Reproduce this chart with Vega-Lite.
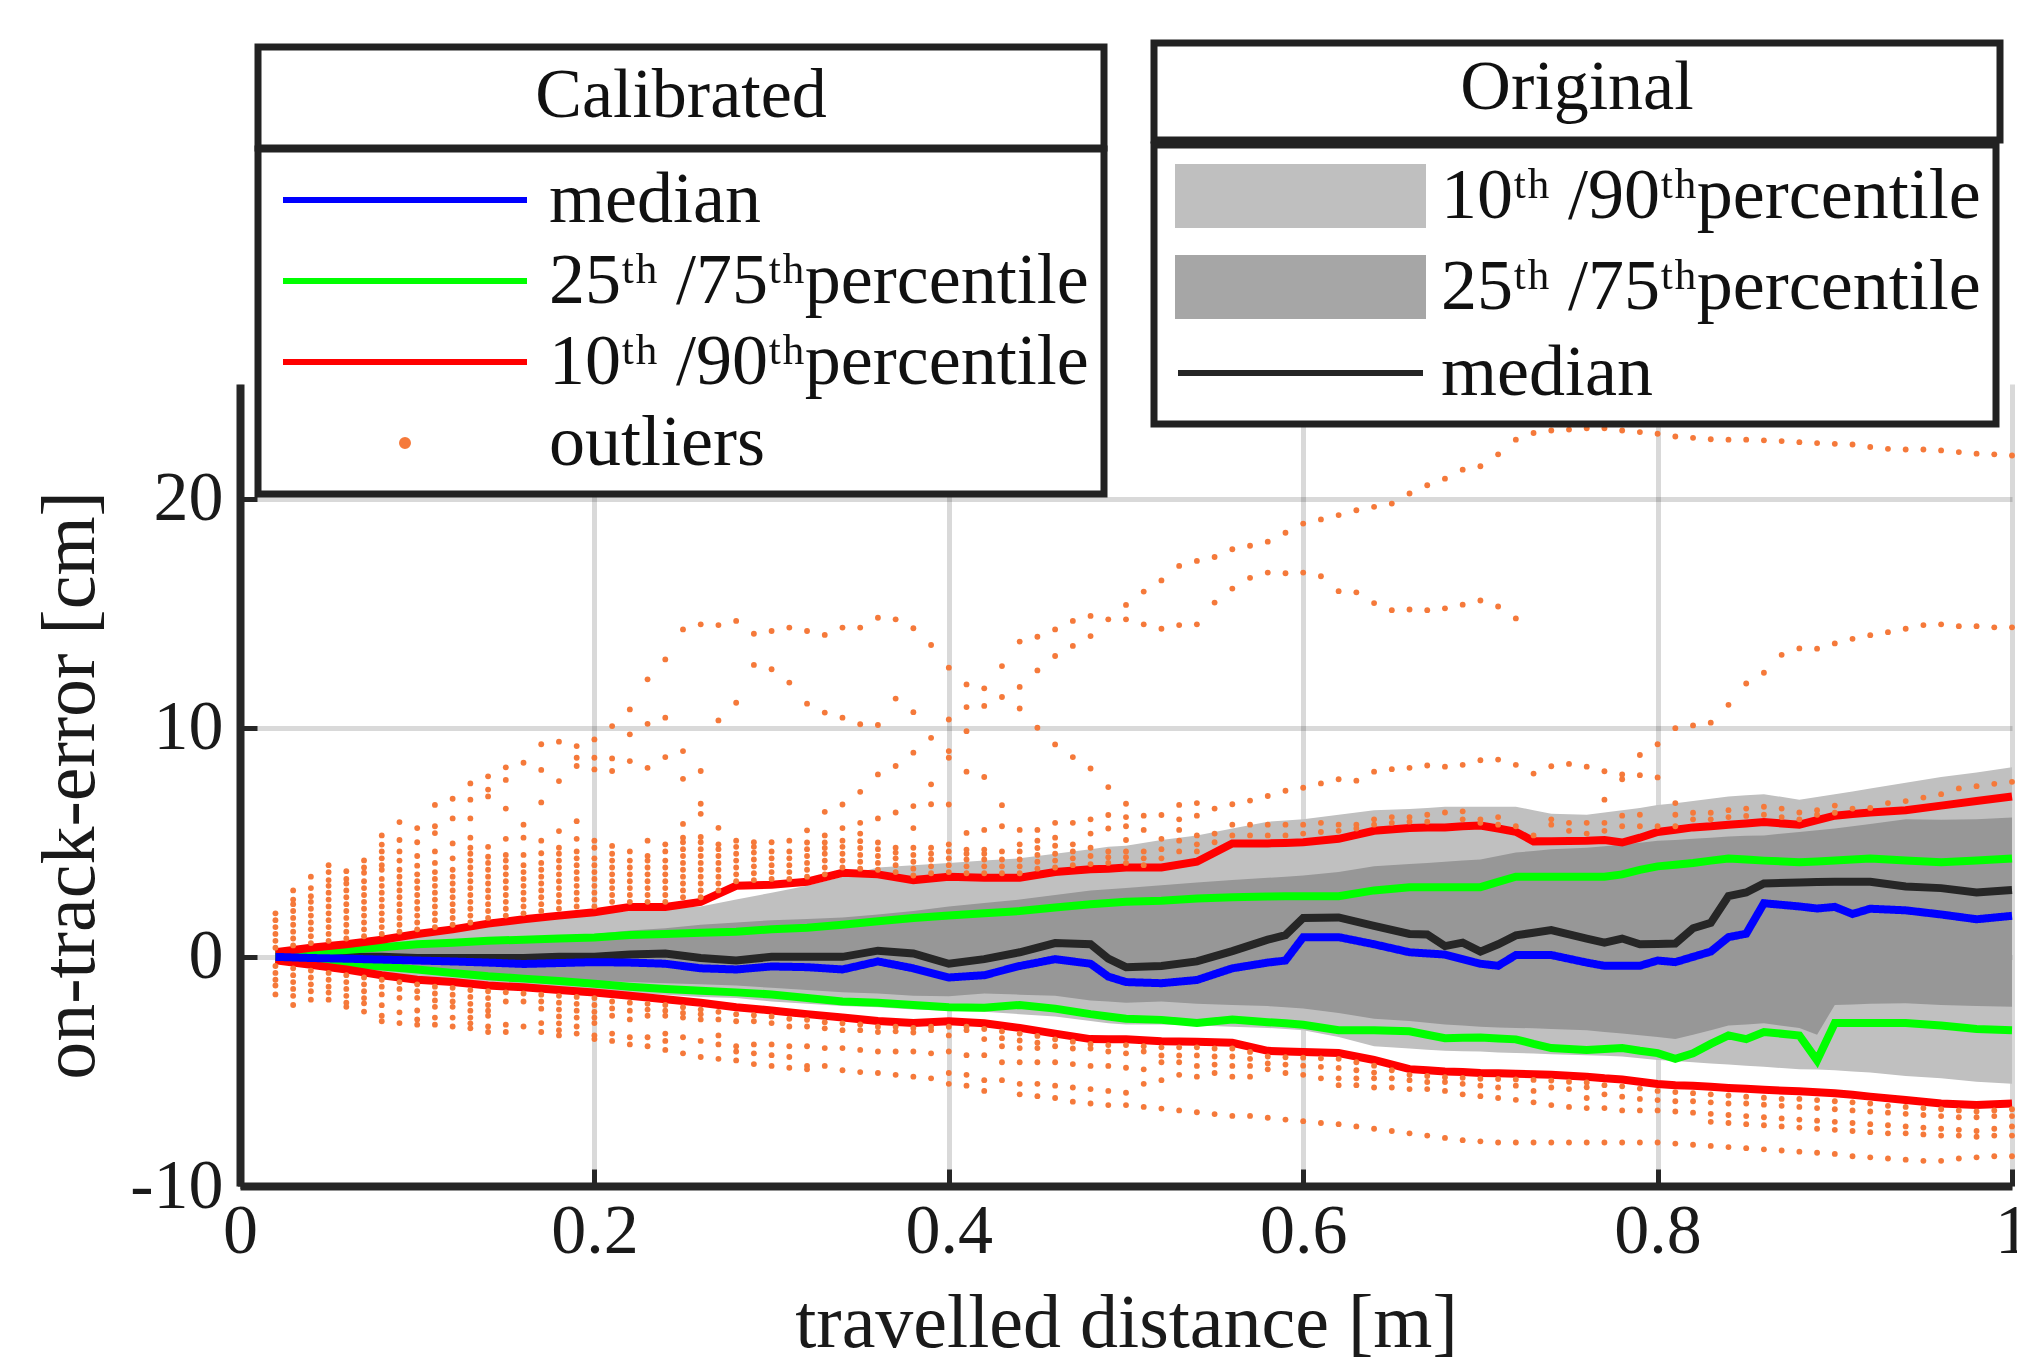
{
"$schema":"https://vega.github.io/schema/vega-lite/v6.json",
"width":1772,"height":802,
"autosize":{"type":"none"},
"padding":{"left":240,"top":384,"right":5,"bottom":171},
"background":"white",
"config":{
 "font":"Liberation Serif",
 "view":{"stroke":null},
 "legend":{"strokeWidth":7},
 "axis":{"domainColor":"#262626","domainWidth":8,"tickColor":"#262626","tickWidth":5,"tickSize":-17,"gridColor":"#000000","gridOpacity":0.15,"gridWidth":5,"labelFont":"Liberation Serif","labelFontSize":70,"labelColor":"#1a1a1a","titleFont":"Liberation Serif","titleFontSize":76,"titleFontWeight":"normal","titleColor":"#1a1a1a","zindex":1,"labelFlush":false,"labelOverlap":false,"labelBound":false}
},
"datasets":{
"main":[
{"x":0.02,"p10":-0.12,"p25":-0.08,"p50":0,"p75":0.08,"p90":0.15,"q10":-0.15,"q25":-0.1,"q50":0,"q75":0.1,"q90":0.2},
{"x":0.04,"p10":-0.3,"p25":-0.2,"p50":0,"p75":0.2,"p90":0.35,"q10":-0.35,"q25":-0.2,"q50":-0.05,"q75":0.2,"q90":0.4},
{"x":0.06,"p10":-0.5,"p25":-0.3,"p50":0,"p75":0.3,"p90":0.5,"q10":-0.55,"q25":-0.3,"q50":-0.08,"q75":0.3,"q90":0.55},
{"x":0.08,"p10":-0.7,"p25":-0.4,"p50":0,"p75":0.4,"p90":0.7,"q10":-0.8,"q25":-0.42,"q50":-0.12,"q75":0.42,"q90":0.75},
{"x":0.10,"p10":-0.9,"p25":-0.5,"p50":-0.05,"p75":0.5,"p90":0.9,"q10":-1.0,"q25":-0.55,"q50":-0.16,"q75":0.55,"q90":1.0},
{"x":0.12,"p10":-1.05,"p25":-0.6,"p50":-0.05,"p75":0.6,"p90":1.1,"q10":-1.1,"q25":-0.7,"q50":-0.2,"q75":0.62,"q90":1.2},
{"x":0.14,"p10":-1.2,"p25":-0.75,"p50":-0.05,"p75":0.7,"p90":1.3,"q10":-1.25,"q25":-0.85,"q50":-0.25,"q75":0.7,"q90":1.45},
{"x":0.16,"p10":-1.3,"p25":-0.85,"p50":-0.05,"p75":0.8,"p90":1.5,"q10":-1.33,"q25":-0.95,"q50":-0.31,"q75":0.75,"q90":1.64},
{"x":0.18,"p10":-1.4,"p25":-0.95,"p50":0,"p75":0.9,"p90":1.7,"q10":-1.45,"q25":-1.05,"q50":-0.27,"q75":0.8,"q90":1.8},
{"x":0.20,"p10":-1.5,"p25":-1.05,"p50":0,"p75":1.0,"p90":1.9,"q10":-1.56,"q25":-1.17,"q50":-0.23,"q75":0.85,"q90":1.95},
{"x":0.22,"p10":-1.6,"p25":-1.1,"p50":0.1,"p75":1.15,"p90":2.0,"q10":-1.7,"q25":-1.3,"q50":-0.25,"q75":0.95,"q90":2.18},
{"x":0.24,"p10":-1.65,"p25":-1.15,"p50":0.15,"p75":1.25,"p90":2.1,"q10":-1.85,"q25":-1.4,"q50":-0.3,"q75":1.0,"q90":2.18},
{"x":0.26,"p10":-1.75,"p25":-1.2,"p50":-0.05,"p75":1.4,"p90":2.2,"q10":-2.0,"q25":-1.48,"q50":-0.5,"q75":1.05,"q90":2.4},
{"x":0.28,"p10":-1.8,"p25":-1.25,"p50":-0.16,"p75":1.5,"p90":2.5,"q10":-2.2,"q25":-1.55,"q50":-0.55,"q75":1.1,"q90":3.1},
{"x":0.30,"p10":-1.95,"p25":-1.35,"p50":0,"p75":1.6,"p90":2.8,"q10":-2.34,"q25":-1.64,"q50":-0.42,"q75":1.2,"q90":3.15},
{"x":0.32,"p10":-2.05,"p25":-1.45,"p50":0,"p75":1.65,"p90":3.1,"q10":-2.5,"q25":-1.8,"q50":-0.45,"q75":1.27,"q90":3.28},
{"x":0.34,"p10":-2.15,"p25":-1.55,"p50":0,"p75":1.72,"p90":3.5,"q10":-2.65,"q25":-1.95,"q50":-0.55,"q75":1.4,"q90":3.67},
{"x":0.36,"p10":-2.2,"p25":-1.6,"p50":0.27,"p75":1.85,"p90":3.9,"q10":-2.8,"q25":-2.0,"q50":-0.2,"q75":1.55,"q90":3.6},
{"x":0.38,"p10":-2.3,"p25":-1.7,"p50":0.15,"p75":2.0,"p90":4.0,"q10":-2.89,"q25":-2.1,"q50":-0.5,"q75":1.7,"q90":3.35},
{"x":0.40,"p10":-2.35,"p25":-1.72,"p50":-0.3,"p75":2.2,"p90":4.1,"q10":-2.81,"q25":-2.2,"q50":-0.9,"q75":1.8,"q90":3.5},
{"x":0.42,"p10":-2.4,"p25":-1.6,"p50":-0.1,"p75":2.35,"p90":4.2,"q10":-2.9,"q25":-2.22,"q50":-0.8,"q75":1.9,"q90":3.45},
{"x":0.44,"p10":-2.5,"p25":-1.65,"p50":0.2,"p75":2.5,"p90":4.3,"q10":-3.1,"q25":-2.1,"q50":-0.4,"q75":2.0,"q90":3.45},
{"x":0.46,"p10":-2.6,"p25":-1.7,"p50":0.6,"p75":2.7,"p90":4.5,"q10":-3.35,"q25":-2.26,"q50":-0.1,"q75":2.15,"q90":3.7},
{"x":0.48,"p10":-2.8,"p25":-1.9,"p50":0.55,"p75":2.9,"p90":4.7,"q10":-3.59,"q25":-2.5,"q50":-0.3,"q75":2.3,"q90":3.82},
{"x":0.49,"p10":-2.9,"p25":-1.95,"p50":-0.08,"p75":2.95,"p90":4.8,"q10":-3.6,"q25":-2.6,"q50":-0.86,"q75":2.35,"q90":3.85},
{"x":0.50,"p10":-2.95,"p25":-2.0,"p50":-0.45,"p75":3.0,"p90":4.85,"q10":-3.6,"q25":-2.7,"q50":-1.1,"q75":2.4,"q90":3.9},
{"x":0.52,"p10":-2.95,"p25":-1.95,"p50":-0.4,"p75":3.12,"p90":5.1,"q10":-3.68,"q25":-2.75,"q50":-1.15,"q75":2.45,"q90":3.9},
{"x":0.54,"p10":-3.0,"p25":-2.05,"p50":-0.2,"p75":3.25,"p90":5.3,"q10":-3.7,"q25":-2.89,"q50":-1.01,"q75":2.55,"q90":4.15},
{"x":0.56,"p10":-3.05,"p25":-2.1,"p50":0.25,"p75":3.35,"p90":5.6,"q10":-3.75,"q25":-2.73,"q50":-0.5,"q75":2.6,"q90":4.95},
{"x":0.58,"p10":-3.1,"p25":-2.15,"p50":0.75,"p75":3.45,"p90":5.9,"q10":-4.1,"q25":-2.85,"q50":-0.25,"q75":2.63,"q90":4.95},
{"x":0.59,"p10":-3.15,"p25":-2.2,"p50":0.95,"p75":3.5,"p90":5.95,"q10":-4.13,"q25":-2.9,"q50":-0.16,"q75":2.64,"q90":4.97},
{"x":0.60,"p10":-3.2,"p25":-2.25,"p50":1.7,"p75":3.55,"p90":6.0,"q10":-4.15,"q25":-2.96,"q50":0.86,"q75":2.65,"q90":5.0},
{"x":0.62,"p10":-3.5,"p25":-2.45,"p50":1.72,"p75":3.7,"p90":6.2,"q10":-4.2,"q25":-3.2,"q50":0.86,"q75":2.65,"q90":5.15},
{"x":0.64,"p10":-3.9,"p25":-2.7,"p50":1.35,"p75":3.95,"p90":6.4,"q10":-4.5,"q25":-3.2,"q50":0.55,"q75":2.9,"q90":5.5},
{"x":0.66,"p10":-4.0,"p25":-2.8,"p50":1.0,"p75":4.05,"p90":6.45,"q10":-4.9,"q25":-3.25,"q50":0.2,"q75":3.04,"q90":5.62},
{"x":0.67,"p10":-4.05,"p25":-2.88,"p50":0.98,"p75":4.1,"p90":6.5,"q10":-4.95,"q25":-3.4,"q50":0.15,"q75":3.04,"q90":5.64},
{"x":0.68,"p10":-4.1,"p25":-2.95,"p50":0.47,"p75":4.15,"p90":6.55,"q10":-5.0,"q25":-3.55,"q50":0.1,"q75":3.04,"q90":5.65},
{"x":0.69,"p10":-4.12,"p25":-3.0,"p50":0.62,"p75":4.2,"p90":6.55,"q10":-5.03,"q25":-3.53,"q50":-0.1,"q75":3.04,"q90":5.7},
{"x":0.70,"p10":-4.13,"p25":-3.05,"p50":0.23,"p75":4.25,"p90":6.55,"q10":-5.07,"q25":-3.52,"q50":-0.3,"q75":3.04,"q90":5.73},
{"x":0.71,"p10":-4.17,"p25":-3.08,"p50":0.55,"p75":4.4,"p90":6.55,"q10":-5.08,"q25":-3.56,"q50":-0.39,"q75":3.27,"q90":5.6},
{"x":0.72,"p10":-4.2,"p25":-3.1,"p50":0.94,"p75":4.55,"p90":6.55,"q10":-5.1,"q25":-3.6,"q50":0.08,"q75":3.5,"q90":5.46},
{"x":0.73,"p10":-4.22,"p25":-3.12,"p50":1.05,"p75":4.62,"p90":6.4,"q10":-5.12,"q25":-3.8,"q50":0.08,"q75":3.5,"q90":5.04},
{"x":0.74,"p10":-4.25,"p25":-3.15,"p50":1.17,"p75":4.7,"p90":6.24,"q10":-5.15,"q25":-3.98,"q50":0.08,"q75":3.5,"q90":5.05},
{"x":0.76,"p10":-4.29,"p25":-3.2,"p50":0.8,"p75":4.76,"p90":6.2,"q10":-5.23,"q25":-4.06,"q50":-0.25,"q75":3.5,"q90":5.07},
{"x":0.77,"p10":-4.32,"p25":-3.28,"p50":0.62,"p75":4.83,"p90":6.3,"q10":-5.3,"q25":-4.02,"q50":-0.39,"q75":3.5,"q90":5.1},
{"x":0.78,"p10":-4.35,"p25":-3.35,"p50":0.8,"p75":4.9,"p90":6.4,"q10":-5.35,"q25":-3.98,"q50":-0.39,"q75":3.6,"q90":4.99},
{"x":0.79,"p10":-4.42,"p25":-3.42,"p50":0.55,"p75":4.98,"p90":6.5,"q10":-5.45,"q25":-4.1,"q50":-0.39,"q75":3.8,"q90":5.2},
{"x":0.80,"p10":-4.5,"p25":-3.5,"p50":0.56,"p75":5.07,"p90":6.63,"q10":-5.55,"q25":-4.2,"q50":-0.16,"q75":3.95,"q90":5.45},
{"x":0.81,"p10":-4.55,"p25":-3.59,"p50":0.58,"p75":5.1,"p90":6.7,"q10":-5.6,"q25":-4.45,"q50":-0.23,"q75":4.02,"q90":5.55},
{"x":0.82,"p10":-4.6,"p25":-3.4,"p50":1.25,"p75":5.15,"p90":6.8,"q10":-5.62,"q25":-4.21,"q50":0,"q75":4.1,"q90":5.65},
{"x":0.83,"p10":-4.65,"p25":-3.2,"p50":1.48,"p75":5.2,"p90":6.9,"q10":-5.67,"q25":-3.8,"q50":0.23,"q75":4.2,"q90":5.7},
{"x":0.84,"p10":-4.7,"p25":-3.0,"p50":2.65,"p75":5.25,"p90":7.0,"q10":-5.72,"q25":-3.43,"q50":0.86,"q75":4.29,"q90":5.77},
{"x":0.85,"p10":-4.75,"p25":-2.95,"p50":2.81,"p75":5.28,"p90":7.05,"q10":-5.76,"q25":-3.59,"q50":1.01,"q75":4.25,"q90":5.82},
{"x":0.86,"p10":-4.8,"p25":-2.9,"p50":3.2,"p75":5.3,"p90":7.1,"q10":-5.8,"q25":-3.28,"q50":2.34,"q75":4.2,"q90":5.88},
{"x":0.88,"p10":-4.9,"p25":-3.1,"p50":3.25,"p75":5.45,"p90":6.86,"q10":-5.87,"q25":-3.43,"q50":2.2,"q75":4.13,"q90":5.77},
{"x":0.89,"p10":-4.92,"p25":-3.4,"p50":3.27,"p75":5.52,"p90":6.98,"q10":-5.91,"q25":-4.52,"q50":2.11,"q75":4.16,"q90":5.97},
{"x":0.90,"p10":-4.95,"p25":-2.1,"p50":3.28,"p75":5.6,"p90":7.1,"q10":-5.95,"q25":-2.89,"q50":2.18,"q75":4.2,"q90":6.16},
{"x":0.91,"p10":-5.0,"p25":-2.08,"p50":3.28,"p75":5.7,"p90":7.22,"q10":-6.02,"q25":-2.89,"q50":1.87,"q75":4.25,"q90":6.23},
{"x":0.92,"p10":-5.05,"p25":-2.05,"p50":3.28,"p75":5.8,"p90":7.35,"q10":-6.1,"q25":-2.89,"q50":2.1,"q75":4.29,"q90":6.3},
{"x":0.94,"p10":-5.2,"p25":-2.03,"p50":3.07,"p75":6.0,"p90":7.6,"q10":-6.25,"q25":-2.89,"q50":2.03,"q75":4.2,"q90":6.4},
{"x":0.96,"p10":-5.3,"p25":-2.1,"p50":3.0,"p75":5.98,"p90":7.85,"q10":-6.4,"q25":-3.0,"q50":1.85,"q75":4.13,"q90":6.6},
{"x":0.98,"p10":-5.45,"p25":-2.15,"p50":2.81,"p75":6.0,"p90":8.05,"q10":-6.47,"q25":-3.15,"q50":1.64,"q75":4.2,"q90":6.8},
{"x":1.00,"p10":-5.54,"p25":-2.18,"p50":2.92,"p75":6.08,"p90":8.27,"q10":-6.4,"q25":-3.2,"q50":1.79,"q75":4.29,"q90":7.0}
],
"out":[
{"x":0.02,"y":0.4},{"x":0.02,"y":0.7},{"x":0.02,"y":1.0},{"x":0.02,"y":1.3},{"x":0.02,"y":1.6},{"x":0.02,"y":1.9},
{"x":0.03,"y":0.5},{"x":0.03,"y":0.8},{"x":0.03,"y":1.1},{"x":0.03,"y":1.4},{"x":0.03,"y":1.7},{"x":0.03,"y":2.0},{"x":0.03,"y":2.3},{"x":0.03,"y":2.5},{"x":0.03,"y":2.9},
{"x":0.04,"y":0.6},{"x":0.04,"y":0.9},{"x":0.04,"y":1.2},{"x":0.04,"y":1.5},{"x":0.04,"y":1.8},{"x":0.04,"y":2.1},{"x":0.04,"y":2.4},{"x":0.04,"y":2.65},{"x":0.04,"y":3.0},{"x":0.04,"y":3.5},
{"x":0.05,"y":0.7},{"x":0.05,"y":1.0},{"x":0.05,"y":1.3},{"x":0.05,"y":1.6},{"x":0.05,"y":1.9},{"x":0.05,"y":2.2},{"x":0.05,"y":2.5},{"x":0.05,"y":2.8},{"x":0.05,"y":3.1},{"x":0.05,"y":3.35},{"x":0.05,"y":3.7},{"x":0.05,"y":4.0},
{"x":0.06,"y":0.8},{"x":0.06,"y":1.1},{"x":0.06,"y":1.4},{"x":0.06,"y":1.7},{"x":0.06,"y":2.0},{"x":0.06,"y":2.3},{"x":0.06,"y":2.6},{"x":0.06,"y":2.9},{"x":0.06,"y":3.2},{"x":0.06,"y":3.4},{"x":0.06,"y":3.74},
{"x":0.07,"y":0.9},{"x":0.07,"y":1.2},{"x":0.07,"y":1.5},{"x":0.07,"y":1.8},{"x":0.07,"y":2.1},{"x":0.07,"y":2.4},{"x":0.07,"y":2.7},{"x":0.07,"y":3.0},{"x":0.07,"y":3.3},{"x":0.07,"y":3.67},{"x":0.07,"y":3.9},{"x":0.07,"y":4.21},
{"x":0.08,"y":1.0},{"x":0.08,"y":1.3},{"x":0.08,"y":1.6},{"x":0.08,"y":1.9},{"x":0.08,"y":2.2},{"x":0.08,"y":2.5},{"x":0.08,"y":2.8},{"x":0.08,"y":3.1},{"x":0.08,"y":3.4},{"x":0.08,"y":3.8},{"x":0.08,"y":4.0},{"x":0.08,"y":4.3},{"x":0.08,"y":4.6},{"x":0.08,"y":4.9},{"x":0.08,"y":5.3},
{"x":0.09,"y":1.1},{"x":0.09,"y":1.4},{"x":0.09,"y":1.7},{"x":0.09,"y":2.0},{"x":0.09,"y":2.3},{"x":0.09,"y":2.6},{"x":0.09,"y":2.9},{"x":0.09,"y":3.2},{"x":0.09,"y":3.5},{"x":0.09,"y":3.8},{"x":0.09,"y":4.2},{"x":0.09,"y":4.6},{"x":0.09,"y":5.1},{"x":0.09,"y":5.88},
{"x":0.1,"y":1.2},{"x":0.1,"y":1.5},{"x":0.1,"y":1.8},{"x":0.1,"y":2.1},{"x":0.1,"y":2.4},{"x":0.1,"y":2.7},{"x":0.1,"y":3.0},{"x":0.1,"y":3.3},{"x":0.1,"y":3.6},{"x":0.1,"y":3.98},{"x":0.1,"y":4.4},{"x":0.1,"y":5.0},{"x":0.1,"y":5.62},
{"x":0.11,"y":1.3},{"x":0.11,"y":1.6},{"x":0.11,"y":1.9},{"x":0.11,"y":2.2},{"x":0.11,"y":2.5},{"x":0.11,"y":2.8},{"x":0.11,"y":3.1},{"x":0.11,"y":3.4},{"x":0.11,"y":3.7},{"x":0.11,"y":4.1},{"x":0.11,"y":4.6},{"x":0.11,"y":5.4},{"x":0.11,"y":5.7},{"x":0.11,"y":6.63},
{"x":0.12,"y":1.4},{"x":0.12,"y":1.7},{"x":0.12,"y":2.0},{"x":0.12,"y":2.3},{"x":0.12,"y":2.6},{"x":0.12,"y":2.9},{"x":0.12,"y":3.2},{"x":0.12,"y":3.5},{"x":0.12,"y":3.8},{"x":0.12,"y":4.3},{"x":0.12,"y":4.95},{"x":0.12,"y":6.04},{"x":0.12,"y":6.9},
{"x":0.13,"y":1.5},{"x":0.13,"y":1.8},{"x":0.13,"y":2.1},{"x":0.13,"y":2.4},{"x":0.13,"y":2.7},{"x":0.13,"y":3.0},{"x":0.13,"y":3.3},{"x":0.13,"y":3.6},{"x":0.13,"y":3.9},{"x":0.13,"y":4.2},{"x":0.13,"y":4.5},{"x":0.13,"y":4.76},{"x":0.13,"y":5.2},{"x":0.13,"y":6.04},{"x":0.13,"y":6.86},{"x":0.13,"y":7.57},
{"x":0.14,"y":1.7},{"x":0.14,"y":2.0},{"x":0.14,"y":2.3},{"x":0.14,"y":2.6},{"x":0.14,"y":2.9},{"x":0.14,"y":3.2},{"x":0.14,"y":3.5},{"x":0.14,"y":3.8},{"x":0.14,"y":4.1},{"x":0.14,"y":4.37},{"x":0.14,"y":4.8},{"x":0.14,"y":7.0},{"x":0.14,"y":7.3},{"x":0.14,"y":7.88},
{"x":0.15,"y":1.8},{"x":0.15,"y":2.1},{"x":0.15,"y":2.4},{"x":0.15,"y":2.7},{"x":0.15,"y":3.0},{"x":0.15,"y":3.3},{"x":0.15,"y":3.6},{"x":0.15,"y":3.9},{"x":0.15,"y":4.2},{"x":0.15,"y":4.45},{"x":0.15,"y":5.15},{"x":0.15,"y":6.47},{"x":0.15,"y":7.72},{"x":0.15,"y":8.27},
{"x":0.16,"y":1.9},{"x":0.16,"y":2.2},{"x":0.16,"y":2.5},{"x":0.16,"y":2.8},{"x":0.16,"y":3.1},{"x":0.16,"y":3.4},{"x":0.16,"y":3.7},{"x":0.16,"y":4.0},{"x":0.16,"y":4.45},{"x":0.16,"y":5.2},{"x":0.16,"y":5.77},{"x":0.16,"y":8.47},
{"x":0.17,"y":2.0},{"x":0.17,"y":2.3},{"x":0.17,"y":2.6},{"x":0.17,"y":2.9},{"x":0.17,"y":3.2},{"x":0.17,"y":3.5},{"x":0.17,"y":3.8},{"x":0.17,"y":4.1},{"x":0.17,"y":4.52},{"x":0.17,"y":5.07},{"x":0.17,"y":6.74},{"x":0.17,"y":8.16},{"x":0.17,"y":9.28},
{"x":0.18,"y":2.1},{"x":0.18,"y":2.4},{"x":0.18,"y":2.7},{"x":0.18,"y":3.0},{"x":0.18,"y":3.3},{"x":0.18,"y":3.6},{"x":0.18,"y":3.9},{"x":0.18,"y":4.2},{"x":0.18,"y":4.5},{"x":0.18,"y":4.76},{"x":0.18,"y":5.49},{"x":0.18,"y":7.67},{"x":0.18,"y":9.39},
{"x":0.19,"y":2.2},{"x":0.19,"y":2.5},{"x":0.19,"y":2.8},{"x":0.19,"y":3.1},{"x":0.19,"y":3.4},{"x":0.19,"y":3.7},{"x":0.19,"y":4.0},{"x":0.19,"y":4.3},{"x":0.19,"y":4.6},{"x":0.19,"y":5.15},{"x":0.19,"y":5.92},{"x":0.19,"y":8.33},{"x":0.19,"y":8.69},{"x":0.19,"y":9.2},
{"x":0.2,"y":2.2},{"x":0.2,"y":2.5},{"x":0.2,"y":2.8},{"x":0.2,"y":3.1},{"x":0.2,"y":3.4},{"x":0.2,"y":3.7},{"x":0.2,"y":4.0},{"x":0.2,"y":4.3},{"x":0.2,"y":4.76},{"x":0.2,"y":5.07},{"x":0.2,"y":8.18},{"x":0.2,"y":8.69},{"x":0.2,"y":9.49},
{"x":0.21,"y":2.4},{"x":0.21,"y":2.7},{"x":0.21,"y":3.0},{"x":0.21,"y":3.3},{"x":0.21,"y":3.6},{"x":0.21,"y":3.9},{"x":0.21,"y":4.2},{"x":0.21,"y":4.5},{"x":0.21,"y":4.84},{"x":0.21,"y":8.11},{"x":0.21,"y":8.66},{"x":0.21,"y":10.07},
{"x":0.22,"y":2.4},{"x":0.22,"y":2.7},{"x":0.22,"y":3.0},{"x":0.22,"y":3.3},{"x":0.22,"y":3.6},{"x":0.22,"y":3.9},{"x":0.22,"y":4.2},{"x":0.22,"y":4.6},{"x":0.22,"y":8.54},{"x":0.22,"y":9.71},{"x":0.22,"y":10.8},
{"x":0.23,"y":2.4},{"x":0.23,"y":2.7},{"x":0.23,"y":3.0},{"x":0.23,"y":3.3},{"x":0.23,"y":3.6},{"x":0.23,"y":3.9},{"x":0.23,"y":4.2},{"x":0.23,"y":4.4},{"x":0.23,"y":5.07},{"x":0.23,"y":8.25},{"x":0.23,"y":10.17},{"x":0.23,"y":12.11},
{"x":0.24,"y":2.4},{"x":0.24,"y":2.7},{"x":0.24,"y":3.0},{"x":0.24,"y":3.3},{"x":0.24,"y":3.6},{"x":0.24,"y":3.9},{"x":0.24,"y":4.2},{"x":0.24,"y":4.6},{"x":0.24,"y":4.91},{"x":0.24,"y":8.72},{"x":0.24,"y":10.44},{"x":0.24,"y":12.98},
{"x":0.25,"y":2.6},{"x":0.25,"y":2.9},{"x":0.25,"y":3.2},{"x":0.25,"y":3.5},{"x":0.25,"y":3.8},{"x":0.25,"y":4.1},{"x":0.25,"y":4.4},{"x":0.25,"y":4.7},{"x":0.25,"y":5.0},{"x":0.25,"y":5.2},{"x":0.25,"y":5.8},{"x":0.25,"y":7.77},{"x":0.25,"y":8.98},{"x":0.25,"y":14.29},
{"x":0.26,"y":2.6},{"x":0.26,"y":2.9},{"x":0.26,"y":3.2},{"x":0.26,"y":3.5},{"x":0.26,"y":3.8},{"x":0.26,"y":4.1},{"x":0.26,"y":4.4},{"x":0.26,"y":4.7},{"x":0.26,"y":5.0},{"x":0.26,"y":5.23},{"x":0.26,"y":6.24},{"x":0.26,"y":6.68},{"x":0.26,"y":8.11},{"x":0.26,"y":14.51},
{"x":0.27,"y":2.9},{"x":0.27,"y":3.2},{"x":0.27,"y":3.5},{"x":0.27,"y":3.8},{"x":0.27,"y":4.1},{"x":0.27,"y":4.4},{"x":0.27,"y":4.7},{"x":0.27,"y":4.91},{"x":0.27,"y":5.63},{"x":0.27,"y":10.32},{"x":0.27,"y":14.48},
{"x":0.28,"y":3.3},{"x":0.28,"y":3.6},{"x":0.28,"y":3.9},{"x":0.28,"y":4.2},{"x":0.28,"y":4.5},{"x":0.28,"y":4.8},{"x":0.28,"y":5.07},{"x":0.28,"y":11.09},{"x":0.28,"y":14.66},
{"x":0.29,"y":3.35},{"x":0.29,"y":3.65},{"x":0.29,"y":3.95},{"x":0.29,"y":4.25},{"x":0.29,"y":4.55},{"x":0.29,"y":4.8},{"x":0.29,"y":5.0},{"x":0.29,"y":12.74},{"x":0.29,"y":14.1},
{"x":0.3,"y":3.4},{"x":0.3,"y":3.7},{"x":0.3,"y":4.0},{"x":0.3,"y":4.3},{"x":0.3,"y":4.6},{"x":0.3,"y":5.0},{"x":0.3,"y":12.55},{"x":0.3,"y":14.22},
{"x":0.31,"y":3.4},{"x":0.31,"y":3.7},{"x":0.31,"y":4.0},{"x":0.31,"y":4.3},{"x":0.31,"y":4.6},{"x":0.31,"y":5.07},{"x":0.31,"y":11.97},{"x":0.31,"y":14.37},
{"x":0.32,"y":3.5},{"x":0.32,"y":3.8},{"x":0.32,"y":4.1},{"x":0.32,"y":4.4},{"x":0.32,"y":4.7},{"x":0.32,"y":4.99},{"x":0.32,"y":5.52},{"x":0.32,"y":11.05},{"x":0.32,"y":14.22},
{"x":0.33,"y":3.6},{"x":0.33,"y":3.9},{"x":0.33,"y":4.2},{"x":0.33,"y":4.5},{"x":0.33,"y":4.75},{"x":0.33,"y":4.99},{"x":0.33,"y":5.3},{"x":0.33,"y":6.33},{"x":0.33,"y":10.66},{"x":0.33,"y":14.05},
{"x":0.34,"y":3.9},{"x":0.34,"y":4.2},{"x":0.34,"y":4.5},{"x":0.34,"y":4.8},{"x":0.34,"y":5.07},{"x":0.34,"y":5.62},{"x":0.34,"y":6.65},{"x":0.34,"y":10.44},{"x":0.34,"y":14.37},
{"x":0.35,"y":3.85},{"x":0.35,"y":4.15},{"x":0.35,"y":4.45},{"x":0.35,"y":4.75},{"x":0.35,"y":5.05},{"x":0.35,"y":5.38},{"x":0.35,"y":5.85},{"x":0.35,"y":7.2},{"x":0.35,"y":10.15},{"x":0.35,"y":14.37},
{"x":0.36,"y":3.8},{"x":0.36,"y":4.1},{"x":0.36,"y":4.4},{"x":0.36,"y":4.7},{"x":0.36,"y":4.99},{"x":0.36,"y":6.04},{"x":0.36,"y":7.96},{"x":0.36,"y":10.12},{"x":0.36,"y":14.8},
{"x":0.37,"y":3.7},{"x":0.37,"y":4.0},{"x":0.37,"y":4.3},{"x":0.37,"y":4.55},{"x":0.37,"y":4.76},{"x":0.37,"y":6.3},{"x":0.37,"y":8.33},{"x":0.37,"y":11.27},{"x":0.37,"y":14.73},
{"x":0.38,"y":3.55},{"x":0.38,"y":3.85},{"x":0.38,"y":4.15},{"x":0.38,"y":4.45},{"x":0.38,"y":4.76},{"x":0.38,"y":5.62},{"x":0.38,"y":6.58},{"x":0.38,"y":8.91},{"x":0.38,"y":10.68},{"x":0.38,"y":14.34},
{"x":0.39,"y":3.65},{"x":0.39,"y":3.95},{"x":0.39,"y":4.25},{"x":0.39,"y":4.5},{"x":0.39,"y":4.76},{"x":0.39,"y":6.66},{"x":0.39,"y":7.53},{"x":0.39,"y":9.56},{"x":0.39,"y":13.61},
{"x":0.4,"y":3.7},{"x":0.4,"y":4.0},{"x":0.4,"y":4.3},{"x":0.4,"y":4.6},{"x":0.4,"y":4.91},{"x":0.4,"y":6.65},{"x":0.4,"y":8.69},{"x":0.4,"y":8.98},{"x":0.4,"y":10.36},{"x":0.4,"y":12.62},
{"x":0.41,"y":3.65},{"x":0.41,"y":3.95},{"x":0.41,"y":4.25},{"x":0.41,"y":4.5},{"x":0.41,"y":4.68},{"x":0.41,"y":5.41},{"x":0.41,"y":8.08},{"x":0.41,"y":9.85},{"x":0.41,"y":10.9},{"x":0.41,"y":11.89},
{"x":0.42,"y":3.65},{"x":0.42,"y":3.95},{"x":0.42,"y":4.25},{"x":0.42,"y":4.5},{"x":0.42,"y":4.68},{"x":0.42,"y":5.54},{"x":0.42,"y":7.85},{"x":0.42,"y":10.95},{"x":0.42,"y":11.72},
{"x":0.43,"y":3.65},{"x":0.43,"y":3.95},{"x":0.43,"y":4.25},{"x":0.43,"y":4.6},{"x":0.43,"y":5.7},{"x":0.43,"y":6.62},{"x":0.43,"y":11.34},{"x":0.43,"y":12.69},
{"x":0.44,"y":3.65},{"x":0.44,"y":3.95},{"x":0.44,"y":4.25},{"x":0.44,"y":4.6},{"x":0.44,"y":4.91},{"x":0.44,"y":5.54},{"x":0.44,"y":10.84},{"x":0.44,"y":11.78},{"x":0.44,"y":13.76},
{"x":0.45,"y":3.85},{"x":0.45,"y":4.15},{"x":0.45,"y":4.45},{"x":0.45,"y":4.75},{"x":0.45,"y":5.07},{"x":0.45,"y":5.54},{"x":0.45,"y":10.0},{"x":0.45,"y":12.5},{"x":0.45,"y":13.97},
{"x":0.46,"y":3.9},{"x":0.46,"y":4.2},{"x":0.46,"y":4.5},{"x":0.46,"y":4.85},{"x":0.46,"y":5.2},{"x":0.46,"y":5.85},{"x":0.46,"y":9.27},{"x":0.46,"y":13.13},{"x":0.46,"y":14.29},
{"x":0.47,"y":4.0},{"x":0.47,"y":4.3},{"x":0.47,"y":4.6},{"x":0.47,"y":4.91},{"x":0.47,"y":5.85},{"x":0.47,"y":8.72},{"x":0.47,"y":13.57},{"x":0.47,"y":14.66},
{"x":0.48,"y":4.05},{"x":0.48,"y":4.4},{"x":0.48,"y":4.76},{"x":0.48,"y":5.38},{"x":0.48,"y":6.0},{"x":0.48,"y":8.22},{"x":0.48,"y":14.0},{"x":0.48,"y":14.88},
{"x":0.49,"y":4.1},{"x":0.49,"y":4.35},{"x":0.49,"y":4.6},{"x":0.49,"y":5.6},{"x":0.49,"y":6.19},{"x":0.49,"y":7.41},{"x":0.49,"y":14.73},
{"x":0.5,"y":4.1},{"x":0.5,"y":4.35},{"x":0.5,"y":4.6},{"x":0.5,"y":5.1},{"x":0.5,"y":5.7},{"x":0.5,"y":6.1},{"x":0.5,"y":6.68},{"x":0.5,"y":14.73},{"x":0.5,"y":15.36},
{"x":0.51,"y":4.0},{"x":0.51,"y":4.3},{"x":0.51,"y":4.6},{"x":0.51,"y":5.54},{"x":0.51,"y":6.16},{"x":0.51,"y":14.51},{"x":0.51,"y":15.94},
{"x":0.52,"y":4.3},{"x":0.52,"y":4.7},{"x":0.52,"y":5.15},{"x":0.52,"y":6.19},{"x":0.52,"y":14.32},{"x":0.52,"y":16.43},
{"x":0.53,"y":4.6},{"x":0.53,"y":5.07},{"x":0.53,"y":5.54},{"x":0.53,"y":6.0},{"x":0.53,"y":6.63},{"x":0.53,"y":14.48},{"x":0.53,"y":17.06},
{"x":0.54,"y":4.6},{"x":0.54,"y":4.91},{"x":0.54,"y":5.3},{"x":0.54,"y":6.16},{"x":0.54,"y":6.71},{"x":0.54,"y":14.51},{"x":0.54,"y":17.28},
{"x":0.55,"y":5.0},{"x":0.55,"y":5.38},{"x":0.55,"y":6.47},{"x":0.55,"y":15.46},{"x":0.55,"y":17.45},
{"x":0.56,"y":5.3},{"x":0.56,"y":5.77},{"x":0.56,"y":6.66},{"x":0.56,"y":16.07},{"x":0.56,"y":17.79},
{"x":0.57,"y":5.3},{"x":0.57,"y":5.77},{"x":0.57,"y":6.82},{"x":0.57,"y":16.54},{"x":0.57,"y":17.94},
{"x":0.58,"y":5.3},{"x":0.58,"y":5.77},{"x":0.58,"y":7.02},{"x":0.58,"y":16.77},{"x":0.58,"y":18.12},
{"x":0.59,"y":5.3},{"x":0.59,"y":5.77},{"x":0.59,"y":7.25},{"x":0.59,"y":16.74},{"x":0.59,"y":18.51},
{"x":0.6,"y":5.38},{"x":0.6,"y":5.77},{"x":0.6,"y":7.38},{"x":0.6,"y":16.77},{"x":0.6,"y":18.91},
{"x":0.61,"y":5.45},{"x":0.61,"y":5.85},{"x":0.61,"y":7.57},{"x":0.61,"y":16.61},{"x":0.61,"y":19.09},
{"x":0.62,"y":5.5},{"x":0.62,"y":5.77},{"x":0.62,"y":7.75},{"x":0.62,"y":15.96},{"x":0.62,"y":19.28},
{"x":0.63,"y":5.6},{"x":0.63,"y":5.77},{"x":0.63,"y":7.69},{"x":0.63,"y":15.91},{"x":0.63,"y":19.49},
{"x":0.64,"y":5.77},{"x":0.64,"y":6.0},{"x":0.64,"y":8.08},{"x":0.64,"y":15.44},{"x":0.64,"y":19.64},
{"x":0.65,"y":5.85},{"x":0.65,"y":6.1},{"x":0.65,"y":8.19},{"x":0.65,"y":15.13},{"x":0.65,"y":19.78},
{"x":0.66,"y":5.9},{"x":0.66,"y":6.1},{"x":0.66,"y":8.25},{"x":0.66,"y":15.16},{"x":0.66,"y":20.22},
{"x":0.67,"y":5.9},{"x":0.67,"y":6.2},{"x":0.67,"y":8.35},{"x":0.67,"y":15.13},{"x":0.67,"y":20.58},
{"x":0.68,"y":6.3},{"x":0.68,"y":8.3},{"x":0.68,"y":15.21},{"x":0.68,"y":20.87},
{"x":0.69,"y":6.0},{"x":0.69,"y":6.35},{"x":0.69,"y":8.38},{"x":0.69,"y":15.37},{"x":0.69,"y":21.26},
{"x":0.7,"y":5.85},{"x":0.7,"y":6.0},{"x":0.7,"y":8.58},{"x":0.7,"y":15.55},{"x":0.7,"y":21.41},
{"x":0.71,"y":5.77},{"x":0.71,"y":6.1},{"x":0.71,"y":8.61},{"x":0.71,"y":15.29},{"x":0.71,"y":21.93},
{"x":0.72,"y":5.7},{"x":0.72,"y":8.38},{"x":0.72,"y":14.77},{"x":0.72,"y":22.57},
{"x":0.73,"y":5.3},{"x":0.73,"y":8.0},{"x":0.73,"y":22.86},
{"x":0.74,"y":5.77},{"x":0.74,"y":6.0},{"x":0.74,"y":8.32},{"x":0.74,"y":22.97},
{"x":0.75,"y":5.5},{"x":0.75,"y":5.85},{"x":0.75,"y":8.42},{"x":0.75,"y":23.01},
{"x":0.76,"y":5.38},{"x":0.76,"y":5.85},{"x":0.76,"y":8.3},{"x":0.76,"y":23.07},
{"x":0.77,"y":5.5},{"x":0.77,"y":5.85},{"x":0.77,"y":6.86},{"x":0.77,"y":8.1},{"x":0.77,"y":23.07},
{"x":0.78,"y":5.7},{"x":0.78,"y":6.16},{"x":0.78,"y":7.75},{"x":0.78,"y":7.96},{"x":0.78,"y":22.97},
{"x":0.79,"y":5.7},{"x":0.79,"y":6.2},{"x":0.79,"y":7.93},{"x":0.79,"y":8.81},{"x":0.79,"y":22.9},
{"x":0.8,"y":5.7},{"x":0.8,"y":7.83},{"x":0.8,"y":9.28},{"x":0.8,"y":22.83},
{"x":0.81,"y":5.7},{"x":0.81,"y":6.2},{"x":0.81,"y":6.71},{"x":0.81,"y":9.98},{"x":0.81,"y":22.71},
{"x":0.82,"y":6.0},{"x":0.82,"y":6.29},{"x":0.82,"y":10.1},{"x":0.82,"y":22.65},
{"x":0.83,"y":6.0},{"x":0.83,"y":6.29},{"x":0.83,"y":10.22},{"x":0.83,"y":22.59},
{"x":0.84,"y":6.1},{"x":0.84,"y":6.4},{"x":0.84,"y":11.0},{"x":0.84,"y":22.57},
{"x":0.85,"y":6.15},{"x":0.85,"y":6.47},{"x":0.85,"y":11.93},{"x":0.85,"y":22.57},
{"x":0.86,"y":6.2},{"x":0.86,"y":6.55},{"x":0.86,"y":12.4},{"x":0.86,"y":22.54},
{"x":0.87,"y":6.1},{"x":0.87,"y":6.47},{"x":0.87,"y":13.18},{"x":0.87,"y":22.51},
{"x":0.88,"y":6.0},{"x":0.88,"y":6.3},{"x":0.88,"y":13.46},{"x":0.88,"y":22.46},
{"x":0.89,"y":6.2},{"x":0.89,"y":6.4},{"x":0.89,"y":13.45},{"x":0.89,"y":22.42},
{"x":0.9,"y":6.29},{"x":0.9,"y":6.6},{"x":0.9,"y":13.68},{"x":0.9,"y":22.39},
{"x":0.91,"y":6.47},{"x":0.91,"y":13.88},{"x":0.91,"y":22.36},
{"x":0.92,"y":6.5},{"x":0.92,"y":14.04},{"x":0.92,"y":22.25},
{"x":0.93,"y":6.71},{"x":0.93,"y":14.17},{"x":0.93,"y":22.17},
{"x":0.94,"y":6.8},{"x":0.94,"y":14.32},{"x":0.94,"y":22.14},
{"x":0.95,"y":6.95},{"x":0.95,"y":14.48},{"x":0.95,"y":22.14},
{"x":0.96,"y":7.1},{"x":0.96,"y":14.51},{"x":0.96,"y":22.1},
{"x":0.97,"y":7.35},{"x":0.97,"y":14.43},{"x":0.97,"y":22.03},
{"x":0.98,"y":7.45},{"x":0.98,"y":14.43},{"x":0.98,"y":21.96},
{"x":0.99,"y":7.55},{"x":0.99,"y":14.38},{"x":0.99,"y":21.93},
{"x":1.0,"y":7.64},{"x":1.0,"y":14.38},{"x":1.0,"y":21.88},
{"x":0.02,"y":-0.4},{"x":0.02,"y":-0.7},{"x":0.02,"y":-1.0},{"x":0.02,"y":-1.25},{"x":0.02,"y":-1.64},
{"x":0.03,"y":-0.5},{"x":0.03,"y":-0.8},{"x":0.03,"y":-1.1},{"x":0.03,"y":-1.4},{"x":0.03,"y":-1.7},{"x":0.03,"y":-2.1},
{"x":0.04,"y":-0.6},{"x":0.04,"y":-0.9},{"x":0.04,"y":-1.2},{"x":0.04,"y":-1.5},{"x":0.04,"y":-1.87},
{"x":0.05,"y":-0.7},{"x":0.05,"y":-1.0},{"x":0.05,"y":-1.3},{"x":0.05,"y":-1.56},{"x":0.05,"y":-1.87},
{"x":0.06,"y":-0.8},{"x":0.06,"y":-1.1},{"x":0.06,"y":-1.4},{"x":0.06,"y":-1.7},{"x":0.06,"y":-2.0},{"x":0.06,"y":-2.18},
{"x":0.07,"y":-0.9},{"x":0.07,"y":-1.2},{"x":0.07,"y":-1.5},{"x":0.07,"y":-1.8},{"x":0.07,"y":-2.03},{"x":0.07,"y":-2.39},
{"x":0.08,"y":-1.0},{"x":0.08,"y":-1.3},{"x":0.08,"y":-1.64},{"x":0.08,"y":-2.11},{"x":0.08,"y":-2.57},{"x":0.08,"y":-2.81},
{"x":0.09,"y":-1.1},{"x":0.09,"y":-1.4},{"x":0.09,"y":-1.79},{"x":0.09,"y":-2.42},{"x":0.09,"y":-2.89},
{"x":0.1,"y":-1.2},{"x":0.1,"y":-1.5},{"x":0.1,"y":-1.79},{"x":0.1,"y":-2.34},{"x":0.1,"y":-2.73},{"x":0.1,"y":-2.96},
{"x":0.11,"y":-1.3},{"x":0.11,"y":-1.6},{"x":0.11,"y":-1.9},{"x":0.11,"y":-2.18},{"x":0.11,"y":-2.65},{"x":0.11,"y":-2.96},
{"x":0.12,"y":-1.35},{"x":0.12,"y":-1.65},{"x":0.12,"y":-1.95},{"x":0.12,"y":-2.18},{"x":0.12,"y":-2.65},{"x":0.12,"y":-3.04},
{"x":0.13,"y":-1.45},{"x":0.13,"y":-1.75},{"x":0.13,"y":-2.05},{"x":0.13,"y":-2.35},{"x":0.13,"y":-2.65},{"x":0.13,"y":-2.9},{"x":0.13,"y":-3.12},
{"x":0.14,"y":-1.5},{"x":0.14,"y":-1.8},{"x":0.14,"y":-2.1},{"x":0.14,"y":-2.35},{"x":0.14,"y":-2.57},{"x":0.14,"y":-3.04},{"x":0.14,"y":-3.28},
{"x":0.15,"y":-1.55},{"x":0.15,"y":-1.95},{"x":0.15,"y":-2.96},{"x":0.15,"y":-3.28},
{"x":0.16,"y":-1.6},{"x":0.16,"y":-1.95},{"x":0.16,"y":-3.04},
{"x":0.17,"y":-1.65},{"x":0.17,"y":-1.95},{"x":0.17,"y":-2.26},{"x":0.17,"y":-2.89},{"x":0.17,"y":-3.28},
{"x":0.18,"y":-1.7},{"x":0.18,"y":-2.0},{"x":0.18,"y":-2.3},{"x":0.18,"y":-2.6},{"x":0.18,"y":-2.9},{"x":0.18,"y":-3.2},{"x":0.18,"y":-3.43},
{"x":0.19,"y":-1.75},{"x":0.19,"y":-2.05},{"x":0.19,"y":-2.35},{"x":0.19,"y":-2.65},{"x":0.19,"y":-3.04},{"x":0.19,"y":-3.35},
{"x":0.2,"y":-1.8},{"x":0.2,"y":-2.1},{"x":0.2,"y":-2.4},{"x":0.2,"y":-2.65},{"x":0.2,"y":-2.89},{"x":0.2,"y":-3.43},{"x":0.2,"y":-3.59},
{"x":0.21,"y":-1.95},{"x":0.21,"y":-2.25},{"x":0.21,"y":-2.57},{"x":0.21,"y":-3.35},{"x":0.21,"y":-3.67},
{"x":0.22,"y":-2.0},{"x":0.22,"y":-2.35},{"x":0.22,"y":-2.73},{"x":0.22,"y":-3.51},{"x":0.22,"y":-3.82},
{"x":0.23,"y":-2.05},{"x":0.23,"y":-2.3},{"x":0.23,"y":-2.57},{"x":0.23,"y":-3.51},{"x":0.23,"y":-3.9},
{"x":0.24,"y":-2.1},{"x":0.24,"y":-2.35},{"x":0.24,"y":-2.57},{"x":0.24,"y":-3.35},{"x":0.24,"y":-3.67},{"x":0.24,"y":-4.06},
{"x":0.25,"y":-2.2},{"x":0.25,"y":-2.45},{"x":0.25,"y":-2.65},{"x":0.25,"y":-3.51},{"x":0.25,"y":-4.21},
{"x":0.26,"y":-2.3},{"x":0.26,"y":-2.5},{"x":0.26,"y":-2.73},{"x":0.26,"y":-3.67},{"x":0.26,"y":-4.37},
{"x":0.27,"y":-2.4},{"x":0.27,"y":-2.73},{"x":0.27,"y":-3.43},{"x":0.27,"y":-3.82},{"x":0.27,"y":-4.45},
{"x":0.28,"y":-2.5},{"x":0.28,"y":-2.81},{"x":0.28,"y":-3.9},{"x":0.28,"y":-4.13},{"x":0.28,"y":-4.52},
{"x":0.29,"y":-2.55},{"x":0.29,"y":-2.81},{"x":0.29,"y":-3.82},{"x":0.29,"y":-4.21},{"x":0.29,"y":-4.68},
{"x":0.3,"y":-2.6},{"x":0.3,"y":-2.89},{"x":0.3,"y":-3.82},{"x":0.3,"y":-4.29},{"x":0.3,"y":-4.76},
{"x":0.31,"y":-2.7},{"x":0.31,"y":-3.04},{"x":0.31,"y":-3.9},{"x":0.31,"y":-4.37},{"x":0.31,"y":-4.84},
{"x":0.32,"y":-2.75},{"x":0.32,"y":-3.04},{"x":0.32,"y":-3.9},{"x":0.32,"y":-4.76},{"x":0.32,"y":-4.91},
{"x":0.33,"y":-2.85},{"x":0.33,"y":-3.12},{"x":0.33,"y":-3.98},{"x":0.33,"y":-4.76},
{"x":0.34,"y":-2.9},{"x":0.34,"y":-3.2},{"x":0.34,"y":-3.98},{"x":0.34,"y":-4.95},
{"x":0.35,"y":-2.95},{"x":0.35,"y":-3.2},{"x":0.35,"y":-4.06},{"x":0.35,"y":-5.03},
{"x":0.36,"y":-3.05},{"x":0.36,"y":-3.28},{"x":0.36,"y":-4.13},{"x":0.36,"y":-5.07},
{"x":0.37,"y":-3.05},{"x":0.37,"y":-3.25},{"x":0.37,"y":-4.13},{"x":0.37,"y":-5.15},
{"x":0.38,"y":-3.1},{"x":0.38,"y":-3.3},{"x":0.38,"y":-4.13},{"x":0.38,"y":-5.23},
{"x":0.39,"y":-3.05},{"x":0.39,"y":-3.2},{"x":0.39,"y":-4.21},{"x":0.39,"y":-5.3},
{"x":0.4,"y":-3.05},{"x":0.4,"y":-3.43},{"x":0.4,"y":-4.13},{"x":0.4,"y":-5.07},{"x":0.4,"y":-5.54},
{"x":0.41,"y":-3.05},{"x":0.41,"y":-3.2},{"x":0.41,"y":-4.29},{"x":0.41,"y":-5.15},{"x":0.41,"y":-5.62},
{"x":0.42,"y":-3.15},{"x":0.42,"y":-3.59},{"x":0.42,"y":-4.29},{"x":0.42,"y":-5.38},{"x":0.42,"y":-5.85},
{"x":0.43,"y":-3.25},{"x":0.43,"y":-3.55},{"x":0.43,"y":-3.9},{"x":0.43,"y":-4.6},{"x":0.43,"y":-5.38},
{"x":0.44,"y":-3.35},{"x":0.44,"y":-3.65},{"x":0.44,"y":-3.98},{"x":0.44,"y":-4.6},{"x":0.44,"y":-5.54},{"x":0.44,"y":-6.0},
{"x":0.45,"y":-3.45},{"x":0.45,"y":-3.75},{"x":0.45,"y":-3.98},{"x":0.45,"y":-4.6},{"x":0.45,"y":-5.54},{"x":0.45,"y":-6.08},
{"x":0.46,"y":-3.6},{"x":0.46,"y":-3.9},{"x":0.46,"y":-4.6},{"x":0.46,"y":-5.62},{"x":0.46,"y":-6.16},
{"x":0.47,"y":-3.7},{"x":0.47,"y":-4.0},{"x":0.47,"y":-4.68},{"x":0.47,"y":-5.7},{"x":0.47,"y":-6.32},
{"x":0.48,"y":-3.8},{"x":0.48,"y":-4.0},{"x":0.48,"y":-4.76},{"x":0.48,"y":-5.77},{"x":0.48,"y":-6.4},
{"x":0.49,"y":-3.85},{"x":0.49,"y":-4.13},{"x":0.49,"y":-4.76},{"x":0.49,"y":-5.85},{"x":0.49,"y":-6.47},
{"x":0.5,"y":-3.85},{"x":0.5,"y":-4.21},{"x":0.5,"y":-4.84},{"x":0.5,"y":-5.93},{"x":0.5,"y":-6.47},
{"x":0.51,"y":-3.9},{"x":0.51,"y":-4.13},{"x":0.51,"y":-4.91},{"x":0.51,"y":-5.54},{"x":0.51,"y":-6.55},
{"x":0.52,"y":-3.95},{"x":0.52,"y":-4.3},{"x":0.52,"y":-4.6},{"x":0.52,"y":-5.38},{"x":0.52,"y":-6.62},
{"x":0.53,"y":-3.95},{"x":0.53,"y":-4.3},{"x":0.53,"y":-4.6},{"x":0.53,"y":-5.15},{"x":0.53,"y":-6.7},
{"x":0.54,"y":-3.95},{"x":0.54,"y":-4.3},{"x":0.54,"y":-4.76},{"x":0.54,"y":-5.23},{"x":0.54,"y":-6.78},
{"x":0.55,"y":-4.0},{"x":0.55,"y":-4.35},{"x":0.55,"y":-4.7},{"x":0.55,"y":-5.07},{"x":0.55,"y":-6.86},
{"x":0.56,"y":-4.0},{"x":0.56,"y":-4.35},{"x":0.56,"y":-4.76},{"x":0.56,"y":-5.23},{"x":0.56,"y":-6.94},
{"x":0.57,"y":-4.15},{"x":0.57,"y":-4.45},{"x":0.57,"y":-4.76},{"x":0.57,"y":-5.23},{"x":0.57,"y":-6.94},
{"x":0.58,"y":-4.35},{"x":0.58,"y":-4.65},{"x":0.58,"y":-4.91},{"x":0.58,"y":-7.02},
{"x":0.59,"y":-4.38},{"x":0.59,"y":-4.7},{"x":0.59,"y":-5.07},{"x":0.59,"y":-7.1},
{"x":0.6,"y":-4.4},{"x":0.6,"y":-4.75},{"x":0.6,"y":-5.15},{"x":0.6,"y":-7.17},
{"x":0.61,"y":-4.43},{"x":0.61,"y":-4.8},{"x":0.61,"y":-5.3},{"x":0.61,"y":-7.25},
{"x":0.62,"y":-4.45},{"x":0.62,"y":-4.85},{"x":0.62,"y":-5.3},{"x":0.62,"y":-5.6},{"x":0.62,"y":-7.3},
{"x":0.63,"y":-4.6},{"x":0.63,"y":-4.95},{"x":0.63,"y":-5.3},{"x":0.63,"y":-5.6},{"x":0.63,"y":-7.4},
{"x":0.64,"y":-4.75},{"x":0.64,"y":-5.05},{"x":0.64,"y":-5.3},{"x":0.64,"y":-5.7},{"x":0.64,"y":-7.5},
{"x":0.65,"y":-4.95},{"x":0.65,"y":-5.3},{"x":0.65,"y":-5.7},{"x":0.65,"y":-7.6},
{"x":0.66,"y":-5.15},{"x":0.66,"y":-5.38},{"x":0.66,"y":-5.77},{"x":0.66,"y":-7.7},
{"x":0.67,"y":-5.2},{"x":0.67,"y":-5.46},{"x":0.67,"y":-5.77},{"x":0.67,"y":-7.8},
{"x":0.68,"y":-5.25},{"x":0.68,"y":-5.46},{"x":0.68,"y":-5.85},{"x":0.68,"y":-7.9},
{"x":0.69,"y":-5.28},{"x":0.69,"y":-5.54},{"x":0.69,"y":-6.0},{"x":0.69,"y":-8.0},
{"x":0.7,"y":-5.32},{"x":0.7,"y":-5.62},{"x":0.7,"y":-6.08},{"x":0.7,"y":-8.05},
{"x":0.71,"y":-5.33},{"x":0.71,"y":-5.7},{"x":0.71,"y":-6.16},{"x":0.71,"y":-8.1},
{"x":0.72,"y":-5.35},{"x":0.72,"y":-5.62},{"x":0.72,"y":-6.24},{"x":0.72,"y":-8.1},
{"x":0.73,"y":-5.37},{"x":0.73,"y":-5.85},{"x":0.73,"y":-6.35},{"x":0.73,"y":-8.1},
{"x":0.74,"y":-5.4},{"x":0.74,"y":-5.7},{"x":0.74,"y":-6.47},{"x":0.74,"y":-8.1},
{"x":0.75,"y":-5.45},{"x":0.75,"y":-5.77},{"x":0.75,"y":-6.55},{"x":0.75,"y":-8.1},
{"x":0.76,"y":-5.48},{"x":0.76,"y":-5.69},{"x":0.76,"y":-6.16},{"x":0.76,"y":-6.6},{"x":0.76,"y":-8.1},
{"x":0.77,"y":-5.6},{"x":0.77,"y":-6.0},{"x":0.77,"y":-6.6},{"x":0.77,"y":-8.1},
{"x":0.78,"y":-5.65},{"x":0.78,"y":-6.1},{"x":0.78,"y":-6.7},{"x":0.78,"y":-8.1},
{"x":0.79,"y":-5.75},{"x":0.79,"y":-6.2},{"x":0.79,"y":-6.7},{"x":0.79,"y":-8.1},
{"x":0.8,"y":-5.85},{"x":0.8,"y":-6.25},{"x":0.8,"y":-6.7},{"x":0.8,"y":-8.1},
{"x":0.81,"y":-5.9},{"x":0.81,"y":-6.3},{"x":0.81,"y":-6.75},{"x":0.81,"y":-8.15},
{"x":0.82,"y":-5.95},{"x":0.82,"y":-6.3},{"x":0.82,"y":-6.8},{"x":0.82,"y":-8.2},
{"x":0.83,"y":-6.0},{"x":0.83,"y":-6.35},{"x":0.83,"y":-6.85},{"x":0.83,"y":-7.2},{"x":0.83,"y":-8.25},
{"x":0.84,"y":-6.05},{"x":0.84,"y":-6.4},{"x":0.84,"y":-6.9},{"x":0.84,"y":-7.25},{"x":0.84,"y":-8.3},
{"x":0.85,"y":-6.1},{"x":0.85,"y":-6.4},{"x":0.85,"y":-6.95},{"x":0.85,"y":-7.3},{"x":0.85,"y":-8.35},
{"x":0.86,"y":-6.15},{"x":0.86,"y":-6.45},{"x":0.86,"y":-7.0},{"x":0.86,"y":-7.35},{"x":0.86,"y":-8.4},
{"x":0.87,"y":-6.2},{"x":0.87,"y":-6.5},{"x":0.87,"y":-7.05},{"x":0.87,"y":-7.4},{"x":0.87,"y":-8.45},
{"x":0.88,"y":-6.2},{"x":0.88,"y":-6.55},{"x":0.88,"y":-7.1},{"x":0.88,"y":-7.45},{"x":0.88,"y":-8.5},
{"x":0.89,"y":-6.25},{"x":0.89,"y":-6.6},{"x":0.89,"y":-7.15},{"x":0.89,"y":-7.5},{"x":0.89,"y":-8.55},
{"x":0.9,"y":-6.3},{"x":0.9,"y":-6.65},{"x":0.9,"y":-7.2},{"x":0.9,"y":-7.55},{"x":0.9,"y":-8.6},
{"x":0.91,"y":-6.35},{"x":0.91,"y":-6.7},{"x":0.91,"y":-7.25},{"x":0.91,"y":-7.6},{"x":0.91,"y":-8.7},
{"x":0.92,"y":-6.4},{"x":0.92,"y":-6.75},{"x":0.92,"y":-7.3},{"x":0.92,"y":-7.65},{"x":0.92,"y":-8.75},
{"x":0.93,"y":-6.5},{"x":0.93,"y":-6.8},{"x":0.93,"y":-7.35},{"x":0.93,"y":-7.7},{"x":0.93,"y":-8.8},
{"x":0.94,"y":-6.55},{"x":0.94,"y":-6.85},{"x":0.94,"y":-7.4},{"x":0.94,"y":-7.7},{"x":0.94,"y":-8.85},
{"x":0.95,"y":-6.6},{"x":0.95,"y":-6.9},{"x":0.95,"y":-7.45},{"x":0.95,"y":-7.75},{"x":0.95,"y":-8.9},
{"x":0.96,"y":-6.65},{"x":0.96,"y":-6.95},{"x":0.96,"y":-7.5},{"x":0.96,"y":-7.8},{"x":0.96,"y":-8.9},
{"x":0.97,"y":-6.7},{"x":0.97,"y":-7.0},{"x":0.97,"y":-7.55},{"x":0.97,"y":-7.8},{"x":0.97,"y":-8.8},
{"x":0.98,"y":-6.75},{"x":0.98,"y":-7.0},{"x":0.98,"y":-7.6},{"x":0.98,"y":-7.85},{"x":0.98,"y":-8.75},
{"x":0.99,"y":-6.7},{"x":0.99,"y":-6.95},{"x":0.99,"y":-7.5},{"x":0.99,"y":-7.8},{"x":0.99,"y":-8.7},
{"x":1.0,"y":-6.65},{"x":1.0,"y":-6.95},{"x":1.0,"y":-7.4},{"x":1.0,"y":-7.8},{"x":1.0,"y":-8.7}
]
},
"layer":[
{"data":{"name":"main"},"mark":{"type":"area","opacity":1,"color":"#c0c0c0"},
 "encoding":{
  "x":{"field":"x","type":"quantitative","scale":{"domain":[0,1],"nice":false,"zero":false},
       "axis":{"values":[0,0.2,0.4,0.6,0.8,1],"labelExpr":"'' + datum.value","title":"travelled distance [m]","grid":true,"labelPadding":28,"titlePadding":20}},
  "y":{"field":"p10","type":"quantitative","scale":{"domain":[-10,25],"nice":false,"zero":false},
       "axis":{"values":[-10,0,10,20],"labelExpr":"'' + datum.value","title":"on-track-error [cm]","grid":true,"labelPadding":34,"titlePadding":20}},
  "y2":{"field":"p90"}
 }},
{"data":{"name":"main"},"mark":{"type":"area","opacity":1,"color":"#979797"},
 "encoding":{"x":{"field":"x","type":"quantitative"},"y":{"field":"p25","type":"quantitative"},"y2":{"field":"p75"}}},
{"data":{"name":"main"},"mark":{"type":"line"},
 "encoding":{"x":{"field":"x","type":"quantitative"},"y":{"field":"p50","type":"quantitative"},
  "stroke":{"datum":"omed","type":"nominal","scale":{"domain":["o10","o25","omed"],"range":["#bfbfbf","#a6a6a6","#262626"]},
    "legend":{"orient":"none","legendX":914,"legendY":-239,"title":null,"zindex":2,
      "labelExpr":"datum.value === 'o10' ? '10ᵗʰ /90ᵗʰpercentile' : datum.value === 'o25' ? '25ᵗʰ /75ᵗʰpercentile' : 'median'",
      "symbolSize":4,"symbolStrokeWidth":6,"symbolType":"stroke","labelOffset":200,"rowPadding":9,"padding":15,"fillColor":"white","strokeColor":"#222222",
      "labelFontSize":72,"labelFont":"Liberation Serif","labelColor":"#111111","labelLimit":0,
      "encode":{"symbols":{"update":{
          "size":{"value":4},
          "strokeWidth":{"value":6},
          "shape":{"signal":"datum.value === 'omed' ? 'M-27,0H218' : 'M-27,-29H218V29H-27Z'"},
          "fill":{"signal":"datum.value === 'o10' ? '#bfbfbf' : datum.value === 'o25' ? '#a6a6a6' : 'transparent'"},
          "stroke":{"signal":"datum.value === 'omed' ? '#222222' : 'transparent'"},
          "opacity":{"value":1}}}}}},
  "strokeWidth":{"datum":"Original","type":"ordinal","scale":{"domain":["Original"],"range":[8,8]},
    "legend":{"orient":"none","legendX":914,"legendY":-341,"title":"Original","titleAnchor":"middle","titleAlign":"center","titleFontSize":70,"titleFontWeight":"normal","titleFont":"Liberation Serif","titleColor":"#111111","titlePadding":0,"titleLimit":2000,"zindex":2,
      "labelExpr":"''","labelFontSize":1,"labelOffset":0,"symbolSize":4,"symbolOpacity":0,"symbolType":"M-5,0H819","padding":11,"fillColor":"white","strokeColor":"#222222",
      "encode":{"symbols":{"update":{"size":{"value":4},"opacity":{"value":0},"shape":{"value":"M-5,0H819"}}}}}}}},
{"data":{"name":"main"},"mark":{"type":"line","strokeWidth":8},
 "encoding":{"x":{"field":"x","type":"quantitative"},"y":{"field":"q25","type":"quantitative"},
  "color":{"datum":"q25","type":"nominal","scale":{"domain":["med","q25","q10","out"],"range":["#0000ff","#00ff00","#ff0000","#f5793a"]},
    "legend":{"orient":"none","legendX":18,"legendY":-235,"title":null,"zindex":2,
      "labelExpr":"datum.value === 'med' ? 'median' : datum.value === 'q25' ? '25ᵗʰ /75ᵗʰpercentile' : datum.value === 'q10' ? '10ᵗʰ /90ᵗʰpercentile' : 'outliers'",
      "symbolSize":4,"symbolStrokeWidth":6,"symbolType":"stroke","labelOffset":204,"rowPadding":9,"padding":15,"fillColor":"white","strokeColor":"#222222",
      "labelFontSize":72,"labelFont":"Liberation Serif","labelColor":"#111111","labelLimit":0,
      "encode":{"symbols":{"update":{
          "size":{"value":4},
          "strokeWidth":{"value":6},
          "shape":{"signal":"datum.value === 'out' ? 'M93,0A3,3,0,1,1,99,0A3,3,0,1,1,93,0Z' : 'M-26,0H218'"},
          "fill":{"signal":"datum.value === 'out' ? '#f5793a' : 'transparent'"},
          "stroke":{"signal":"datum.value === 'med' ? '#0000ff' : datum.value === 'q25' ? '#00ff00' : datum.value === 'q10' ? '#ff0000' : 'transparent'"},
          "opacity":{"value":1}}}}}}}},
{"data":{"name":"main"},"mark":{"type":"line","strokeWidth":8},
 "encoding":{"x":{"field":"x","type":"quantitative"},"y":{"field":"q75","type":"quantitative"},"color":{"datum":"q25","type":"nominal"}}},
{"data":{"name":"main"},"mark":{"type":"line","strokeWidth":8},
 "encoding":{"x":{"field":"x","type":"quantitative"},"y":{"field":"q10","type":"quantitative"},"color":{"datum":"q10","type":"nominal"}}},
{"data":{"name":"main"},"mark":{"type":"line","strokeWidth":8},
 "encoding":{"x":{"field":"x","type":"quantitative"},"y":{"field":"q90","type":"quantitative"},"color":{"datum":"q10","type":"nominal"}}},
{"data":{"name":"main"},"mark":{"type":"line","strokeWidth":8},
 "encoding":{"x":{"field":"x","type":"quantitative"},"y":{"field":"q50","type":"quantitative"},"color":{"datum":"med","type":"nominal"},
  "strokeDash":{"datum":"Calibrated","type":"nominal","scale":{"domain":["Calibrated"],"range":[[1,0]]},
    "legend":{"orient":"none","legendX":18,"legendY":-337,"title":"Calibrated","titleAnchor":"middle","titleAlign":"center","titleFontSize":70,"titleFontWeight":"normal","titleFont":"Liberation Serif","titleColor":"#111111","titlePadding":0,"titleLimit":2000,"zindex":2,
      "labelExpr":"''","labelFontSize":1,"labelOffset":0,"symbolSize":4,"symbolOpacity":0,"symbolStrokeWidth":0,"symbolType":"M-1,0H815","padding":15,"fillColor":"white","strokeColor":"#222222",
      "encode":{"symbols":{"update":{"size":{"value":4},"strokeWidth":{"value":0},"opacity":{"value":0},"shape":{"value":"M-1,0H815"}}}}}}}},
{"data":{"name":"out"},"mark":{"type":"point","filled":true,"size":34,"opacity":1},
 "encoding":{"x":{"field":"x","type":"quantitative"},"y":{"field":"y","type":"quantitative"},"color":{"datum":"out","type":"nominal"}}}
]
}
